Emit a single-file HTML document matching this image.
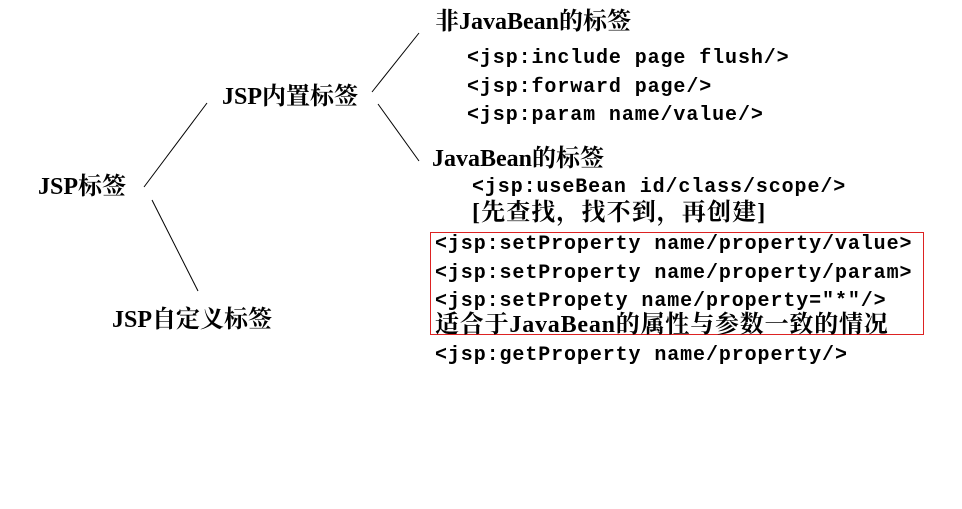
<!DOCTYPE html>
<html><head><meta charset="utf-8"><style>
body{margin:0;width:962px;height:509px;background:#fff;position:relative;overflow:hidden}
.t{position:absolute;white-space:pre;font-weight:bold;color:#000;line-height:26px;font-size:24px;font-family:"Liberation Serif","Noto Serif CJK SC",serif}
.c{position:absolute;white-space:pre;font-weight:bold;color:#000;line-height:24px;font-size:20px;letter-spacing:0.9px;font-family:"Liberation Mono","Noto Serif CJK SC",monospace}
</style></head><body>
<svg width="962" height="509" style="position:absolute;left:0;top:0">
<g stroke="#000" stroke-width="1">
<line x1="144" y1="187" x2="207" y2="103"/>
<line x1="152" y1="200" x2="198" y2="291"/>
<line x1="372" y1="92" x2="419" y2="33"/>
<line x1="378" y1="104" x2="419" y2="161"/>
</g>
<rect x="430.5" y="232.5" width="493" height="102" fill="none" stroke="#d22" stroke-width="1"/>
</svg>
<div class="t" style="left:38px;top:174px">JSP标签</div>
<div class="t" style="left:222px;top:84px">JSP内置标签</div>
<div class="t" style="left:112px;top:307px">JSP自定义标签</div>
<div class="t" style="left:435px;top:9px">非JavaBean的标签</div>
<div class="c" style="left:467px;top:47px">&lt;jsp:include page flush/&gt;</div>
<div class="c" style="left:467px;top:76px">&lt;jsp:forward page/&gt;</div>
<div class="c" style="left:467px;top:104px">&lt;jsp:param name/value/&gt;</div>
<div class="t" style="left:432px;top:146px">JavaBean的标签</div>
<div class="c" style="left:472px;top:176px">&lt;jsp:useBean id/class/scope/&gt;</div>
<div class="t" style="left:472px;top:200px;letter-spacing:1.1px">[先查找，找不到，再创建]</div>
<div class="c" style="left:435px;top:233px">&lt;jsp:setProperty name/property/value&gt;</div>
<div class="c" style="left:435px;top:262px">&lt;jsp:setProperty name/property/param&gt;</div>
<div class="c" style="left:435px;top:290px">&lt;jsp:setPropety name/property="*"/&gt;</div>
<div class="t" style="left:435px;top:312px;letter-spacing:0.8px">适合于JavaBean的属性与参数一致的情况</div>
<div class="c" style="left:435px;top:344px">&lt;jsp:getProperty name/property/&gt;</div>
</body></html>
